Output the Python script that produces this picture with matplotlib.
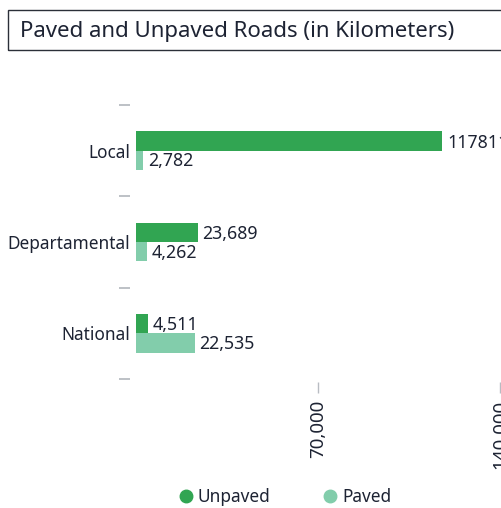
import matplotlib
matplotlib.use('Agg')
import matplotlib.pyplot as plt
from matplotlib.patches import Rectangle
import numpy as np

plt.rcParams['font.family'] = ['Noto Sans', 'DejaVu Sans']

categories = ['Local', 'Departamental', 'National']
unpaved = [117811, 23689, 4511]
paved = [2782, 4262, 22535]
unpaved_labels = ['117811', '23,689', '4,511']
paved_labels = ['2,782', '4,262', '22,535']
xticks = [70000, 140000]
xtick_labels = ['70,000', '140,000']

c_unpaved = '#31a552'
c_paved = '#82cdab'
txt = '#1d2333'
tickc = '#b8bcc2'

W, H = 502, 508
fig = plt.figure(figsize=(W / 100, H / 100), dpi=100)

# title box
fig.patches.append(Rectangle((8 / W, 1 - 50 / H), 600 / W, 40 / H, transform=fig.transFigure,
                             fill=False, edgecolor='#2b2f38', linewidth=1.0))
fig.text(20 / W, 1 - 32 / H, 'Paved and Unpaved Roads (in Kilometers)', fontsize=16,
         color=txt, va='center', ha='left')

ax = fig.add_axes([136 / W, 1 - 379 / H, 364 / W, (379 - 105) / H])
y = np.arange(len(categories))
bh = 0.21
ax.barh(y - bh / 2, unpaved, height=bh, color=c_unpaved, label='Unpaved')
ax.barh(y + bh / 2, paved, height=bh, color=c_paved, label='Paved')

for i in range(len(categories)):
    ax.annotate(unpaved_labels[i], (unpaved[i], y[i] - bh / 2), xytext=(5, -1.5),
                textcoords='offset pixels', va='center', ha='left', fontsize=12.8, color=txt,
                annotation_clip=False)
    ax.annotate(paved_labels[i], (paved[i], y[i] + bh / 2), xytext=(5, -1),
                textcoords='offset pixels', va='center', ha='left', fontsize=12.8, color=txt,
                annotation_clip=False)

ax.set_xlim(0, 140000)
ax.set_ylim(len(categories) - 0.5, -0.5)

for s in ax.spines.values():
    s.set_visible(False)
ax.spines['left'].set_position(('outward', 4.3))
ax.spines['bottom'].set_position(('outward', 2.2))

ax.set_yticks(y)
ax.set_yticklabels(categories, fontsize=12.4, color=txt)
ax.set_yticks(np.arange(-0.5, len(categories)), minor=True)
ax.tick_params(axis='y', which='major', length=0, pad=0)
ax.tick_params(axis='y', which='minor', length=8, width=1.3, color=tickc)

ax.set_xticks(xticks)
ax.set_xticklabels(xtick_labels, rotation=90, fontsize=13.5, color=txt)
ax.tick_params(axis='x', which='major', length=8, width=1, color=tickc, pad=5)

leg = fig.legend(loc='center', bbox_to_anchor=(286 / W, 1 - 497 / H), ncol=2, frameon=False,
                 fontsize=12.4, handlelength=0.6, handletextpad=0.4, columnspacing=3.15,
                 labelcolor=txt,
                 handles=[plt.Line2D([], [], marker='o', ls='', color=c_unpaved, markersize=9),
                          plt.Line2D([], [], marker='o', ls='', color=c_paved, markersize=9)],
                 labels=['Unpaved', 'Paved'])

fig.savefig('out.png', dpi=100)
